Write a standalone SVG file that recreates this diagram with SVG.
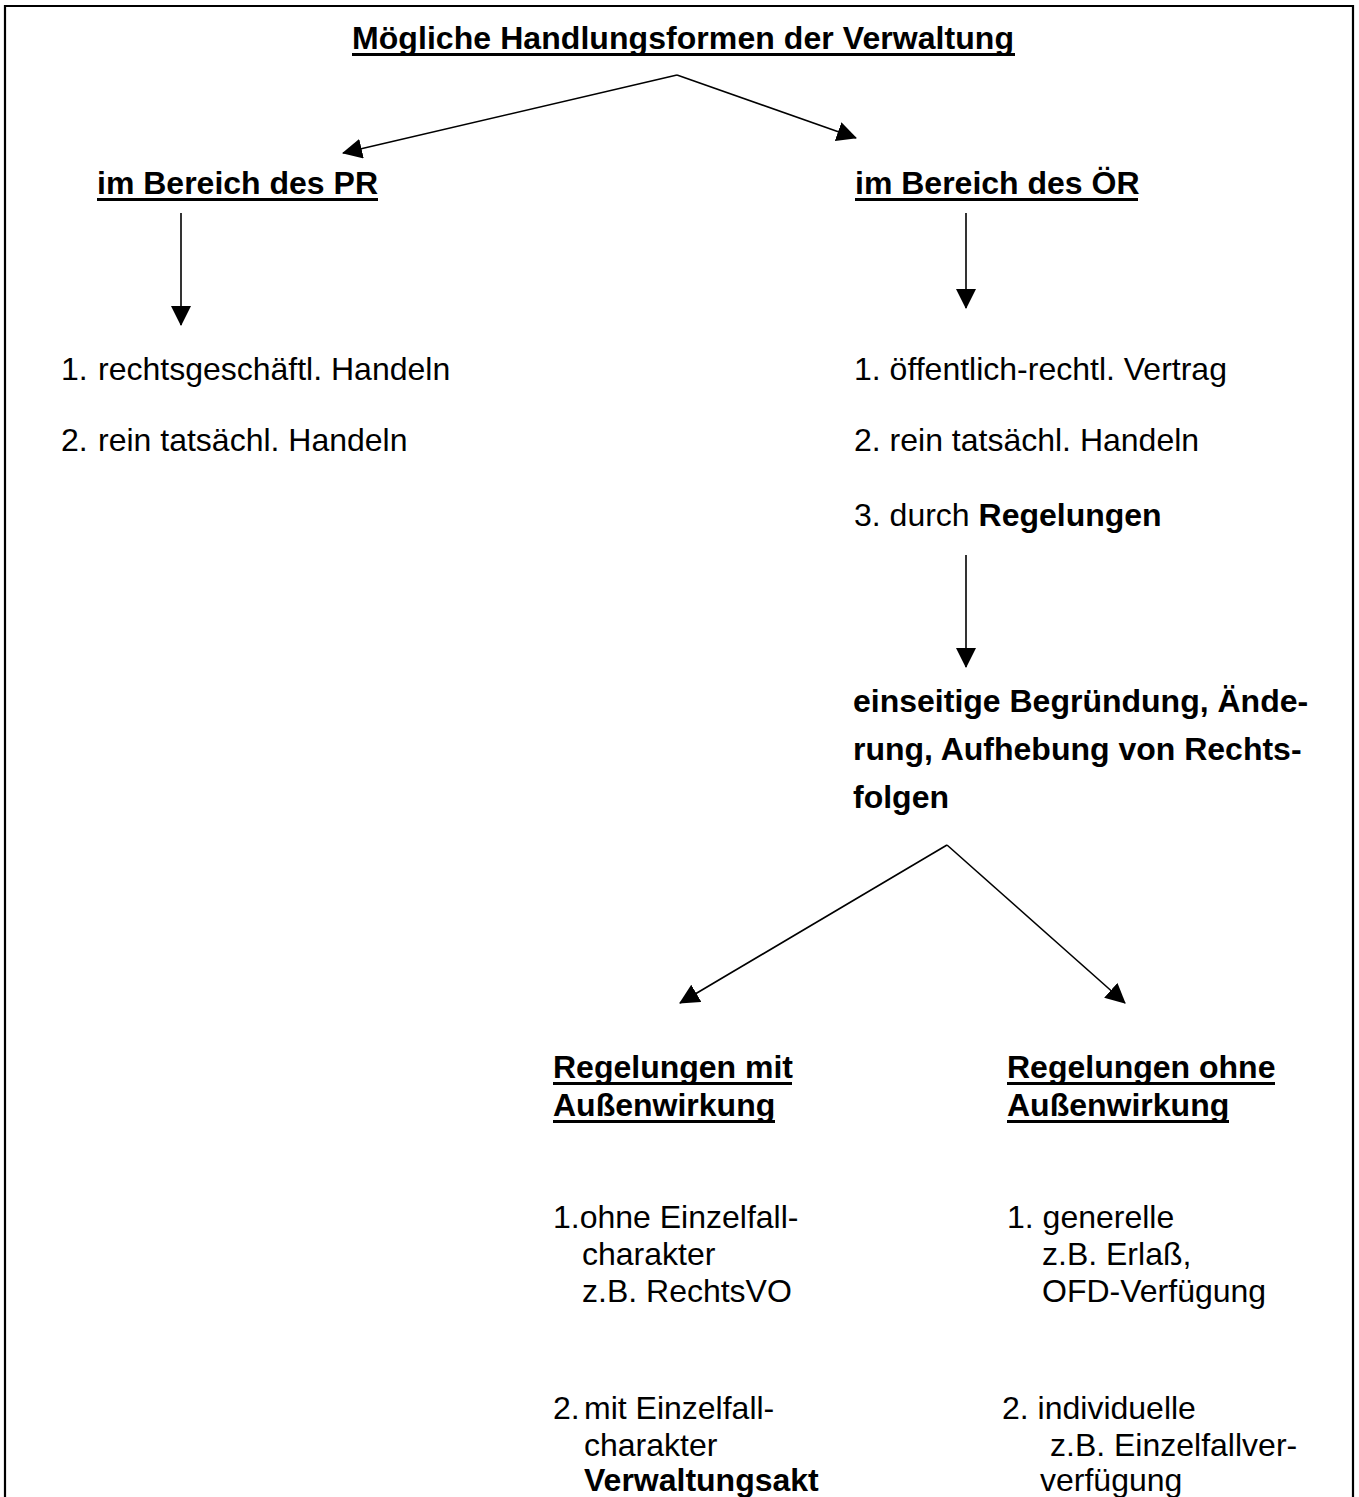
<svg xmlns="http://www.w3.org/2000/svg" width="1359" height="1497" viewBox="0 0 1359 1497">
<style>
text{font-family:"Liberation Sans",Arial,sans-serif;font-size:32px;fill:#000}
.b{font-weight:bold}
.ul{stroke:#000;stroke-width:3;fill:none}
.c{stroke:#000;stroke-width:1.6;fill:none}
</style>
<defs>
<marker id="ah" markerUnits="userSpaceOnUse" markerWidth="20" markerHeight="20" refX="19" refY="10" orient="auto">
<path d="M0,0 L20,10 L0,20 Z" fill="#000"/>
</marker>
</defs>
<rect width="1359" height="1497" fill="#fff"/>
<path d="M5,1510 V6 H1353 V1510" fill="none" stroke="#000" stroke-width="2.2"/>
<g id="connectors">
<path class="c" d="M677,75 L343,153" marker-end="url(#ah)"/>
<path class="c" d="M677,75 L856,138" marker-end="url(#ah)"/>
<path class="c" d="M181,213 V325" marker-end="url(#ah)"/>
<path class="c" d="M966,213 V308" marker-end="url(#ah)"/>
<path class="c" d="M966,555 V667" marker-end="url(#ah)"/>
<path class="c" d="M947,845 L680,1003" marker-end="url(#ah)"/>
<path class="c" d="M947,845 L1125,1003" marker-end="url(#ah)"/>
</g>
<g id="title"><text class="b" x="352" y="49" textLength="662">Mögliche Handlungsformen der Verwaltung</text><path class="ul" d="M352,54.5 H1015"/></g>
<g id="pr"><text class="b" x="97" y="194">im Bereich des PR</text><path class="ul" d="M97,199.5 H378"/></g>
<g id="oer"><text class="b" x="855" y="194">im Bereich des ÖR</text><path class="ul" d="M855,199.5 H1138"/></g>
<g id="pr-list">
<text x="61" y="380">1.</text><text x="98" y="380">rechtsgeschäftl. Handeln</text>
<text x="61" y="451">2.</text><text x="98" y="451">rein tatsächl. Handeln</text>
</g>
<g id="oer-list">
<text x="854" y="380">1. öffentlich-rechtl. Vertrag</text>
<text x="854" y="451">2. rein tatsächl. Handeln</text>
<text x="854" y="526">3. durch <tspan class="b">Regelungen</tspan></text>
</g>
<g id="regelung">
<text class="b" x="853" y="712">einseitige Begründung, Ände-</text>
<text class="b" x="853" y="760">rung, Aufhebung von Rechts-</text>
<text class="b" x="853" y="808">folgen</text>
</g>
<g id="mit">
<text class="b" x="553" y="1078">Regelungen mit</text><path class="ul" d="M553,1083.5 H792"/>
<text class="b" x="553" y="1116">Außenwirkung</text><path class="ul" d="M553,1121.5 H775"/>
</g>
<g id="ohne">
<text class="b" x="1007" y="1078">Regelungen ohne</text><path class="ul" d="M1007,1083.5 H1275"/>
<text class="b" x="1007" y="1116">Außenwirkung</text><path class="ul" d="M1007,1121.5 H1229"/>
</g>
<g id="mit-list">
<text x="553" y="1228">1.ohne Einzelfall-</text>
<text x="582" y="1265">charakter</text>
<text x="582" y="1302">z.B. RechtsVO</text>
<text x="553" y="1419">2.</text><text x="584" y="1419">mit Einzelfall-</text>
<text x="584" y="1456">charakter</text>
<text class="b" x="584" y="1491">Verwaltungsakt</text>
</g>
<g id="ohne-list">
<text x="1007" y="1228">1. generelle</text>
<text x="1042" y="1265">z.B. Erlaß,</text>
<text x="1042" y="1302">OFD-Verfügung</text>
<text x="1002" y="1419">2. individuelle</text>
<text x="1050" y="1456">z.B. Einzelfallver-</text>
<text x="1040" y="1491">verfügung</text>
</g>
</svg>
